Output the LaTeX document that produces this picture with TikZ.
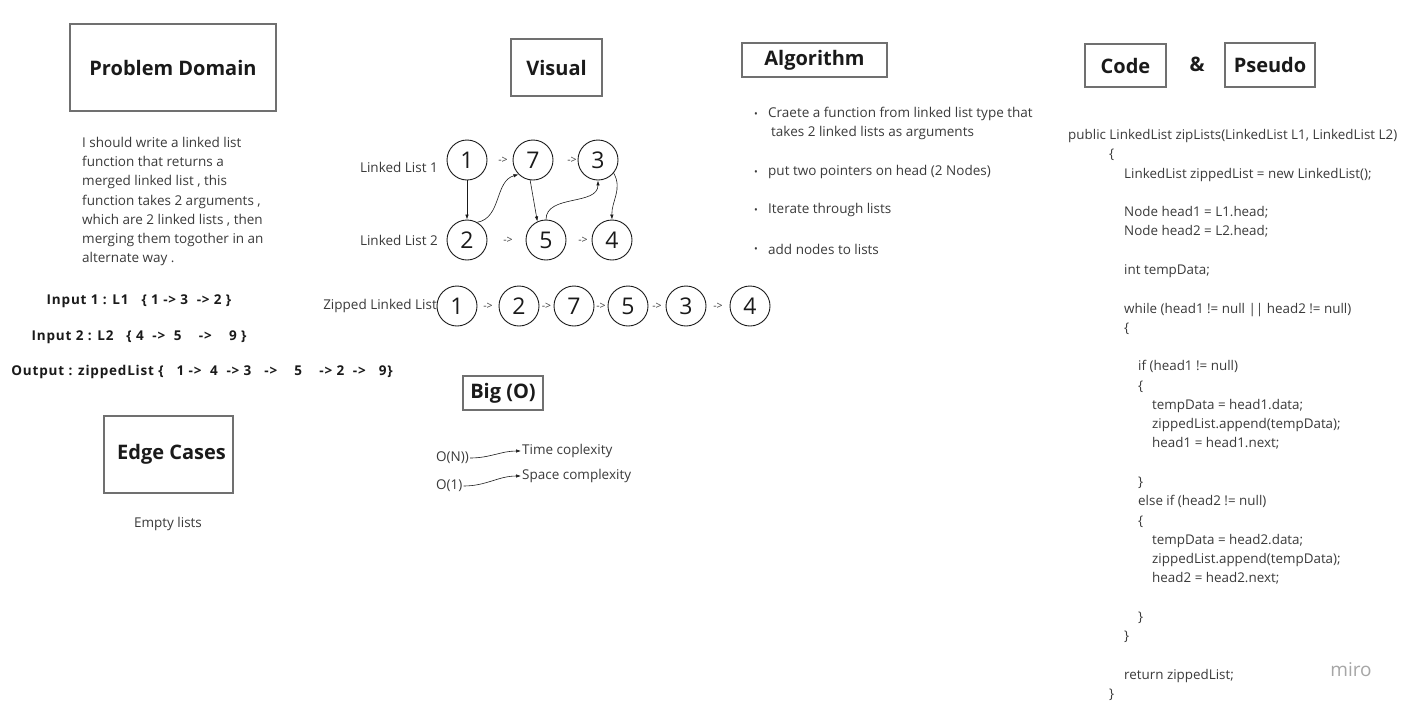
\documentclass[tikz,border=0pt]{standalone}
\usepackage{fontspec}
\setmainfont{Open Sans}
\usetikzlibrary{arrows.meta}
\definecolor{ink}{HTML}{1A1A1A}
\definecolor{txt}{HTML}{3A3A3A}
\definecolor{frame}{HTML}{707070}
\tikzset{
  heading/.style={draw=frame,line width=1.2pt,inner sep=0pt,text=ink,font=\bfseries\fontsize{20}{23}\selectfont},
  body/.style={inner sep=0pt,text=txt,font=\fontsize{13.5}{16}\selectfont},
  bold/.style={inner sep=0pt,text=ink,font=\bfseries\fontsize{13.5}{16}\selectfont\addfontfeature{LetterSpace=6}},
  codeline/.style={inner sep=0pt,anchor=base west,text=txt,font=\fontsize{13.4}{16}\selectfont},
  listnode/.style={circle,draw=ink,line width=0.9pt,minimum size=40pt,inner sep=0pt,text=ink,font=\fontsize{23}{25}\selectfont},
  pointer/.style={inner sep=0pt,text=txt,font=\fontsize{10.5}{12}\selectfont},
  link/.style={-{Latex[length=5pt,width=3.5pt]},line width=0.6pt,draw=ink}
}
\begin{document}
\begin{tikzpicture}[x=1pt,y=-1pt]
\useasboundingbox (0,0) rectangle (1406,710);
% headings
\node[heading,minimum width=206pt,minimum height=87pt] (domain) at (173,67.5) {Problem Domain};
\node[heading,minimum width=91pt,minimum height=57pt] (visual) at (556.5,67.5) {Visual};
\node[heading,minimum width=145pt,minimum height=34pt] (algo) at (814.5,60) {Algorithm};
\node[heading,minimum width=81pt,minimum height=43pt] (code) at (1125.5,65.5) {Code};
\node[inner sep=0pt,text=ink,font=\bfseries\fontsize{20}{23}\selectfont] (amp) at (1197,64) {\&};
\node[heading,minimum width=90pt,minimum height=44pt] (pseudo) at (1270,65) {Pseudo};
\node[heading,minimum width=129pt,minimum height=77pt] (edge) at (168.5,454.5) {\hspace*{6pt}Edge Cases};
\node[heading,minimum width=80pt,minimum height=34pt] (bigo) at (503,393) {Big (O)};

% problem domain
\foreach \txt [count=\k] in {I should write a linked list,function that returns a,{merged linked list , this},{function takes 2 arguments ,},{which are 2 linked lists , then},merging them togother in an,alternate way .}
  \node[body,anchor=base west] (pd\k) at (82,{147.5+(\k-1)*19.2}) {\txt};
\node[bold] (in1) at (139,301) {Input 1 : L1~~~\{ 1 ->~3~~->~2 \}};
\node[bold] (in2) at (139,337) {Input 2 : L2~~~\{ 4~~->~~5~~~~->~~~~9 \}};
\node[bold] (out) at (202,372) {Output : zippedList \{~~~1 ->~~4~~->~3~~~->~~~~5~~~~->~2~~->~~~9\}};
\node[body] (empty) at (168,524) {Empty lists};

% visual
\node[body,anchor=east] (lab1) at (438,167) {Linked List 1};
\node[body,anchor=east] (lab2) at (438,240) {Linked List 2};
\node[body,anchor=east] (labz) at (437,306) {Zipped Linked List};
\node[listnode] (a1) at (467,160) {1};
\node[listnode] (a7) at (533,160) {7};
\node[listnode] (a3) at (598,160) {3};
\node[listnode] (b2) at (467,240) {2};
\node[listnode] (b5) at (546,240) {5};
\node[listnode] (b4) at (612,240) {4};
\node[pointer] at (503,160) {->};
\node[pointer] at (572,160) {->};
\node[pointer] at (508,240) {->};
\node[pointer] at (583,240) {->};
\draw[link] (a1) -- (b2);
\draw[link] (b2.60) to[out=10,in=195] (a7.225);
\draw[link] (a7.262) -- (b5.115);
\draw[link] (b5.north) to[out=90,in=-90] (a3.south);
\draw[link] (a3.-40) to[out=-60,in=92] (b4.north);
\foreach \v/\x [count=\i] in {1/457,2/519,7/574,5/628,3/686,4/750}
  \node[listnode] (z\i) at (\x,306) {\v};
\foreach \x in {488,546.5,601,657,718}
  \node[pointer] at (\x,306) {->};

% big o
\node[body,anchor=west,inner sep=1pt] (on) at (435,458) {O(N))};
\node[body,anchor=west,inner sep=1pt] (o1) at (435,486) {O(1)};
\node[body,anchor=west,inner sep=1pt] (tc) at (521,451) {Time coplexity};
\node[body,anchor=west,inner sep=1pt] (sc) at (521,476) {Space complexity};
\draw[link] (on.east) to[out=0,in=180] (tc.west);
\draw[link] (o1.east) to[out=0,in=180] (sc.west);

% algorithm
\foreach \y in {114,172,210,249}
  \node[body,font=\fontsize{10}{12}\selectfont] at (756,\y+1) {\textbullet};
\node[body,anchor=west] (s1) at (768,114) {Craete a function from linked list type that};
\node[body,anchor=west] (s1b) at (771,133) {takes 2 linked lists as arguments};
\node[body,anchor=west] (s2) at (768,172) {put two pointers on head (2 Nodes)};
\node[body,anchor=west] (s3) at (768,210) {Iterate through lists};
\node[body,anchor=west] (s4) at (768,249) {add nodes to lists};

% code
\foreach \x/\r/\txt [count=\k] in {
  1068/0/{public LinkedList zipLists(LinkedList L1, LinkedList L2)},
  1109/1/{\{},
  1124/2/{LinkedList zippedList = new LinkedList();},
  1124/4/{Node head1 = L1.head;},
  1124/5/{Node head2 = L2.head;},
  1124/7/{int tempData;},
  1124/9/{while (head1 != null || head2 != null)},
  1124/10/{\{},
  1138/12/{if (head1 != null)},
  1138/13/{\{},
  1152/14/{tempData = head1.data;},
  1152/15/{zippedList.append(tempData);},
  1152/16/{head1 = head1.next;},
  1138/18/{\}},
  1138/19/{else if (head2 != null)},
  1138/20/{\{},
  1152/21/{tempData = head2.data;},
  1152/22/{zippedList.append(tempData);},
  1152/23/{head2 = head2.next;},
  1138/25/{\}},
  1124/26/{\}},
  1124/28/{return zippedList;},
  1109/29/{\}}}
  \node[codeline] (line\k) at (\x,{139.5+\r*19.28}) {\txt};
\node[inner sep=0pt,text=black!35,font=\fontsize{19}{22}\selectfont] (miro) at (1351,670) {miro};
\end{tikzpicture}
\end{document}
